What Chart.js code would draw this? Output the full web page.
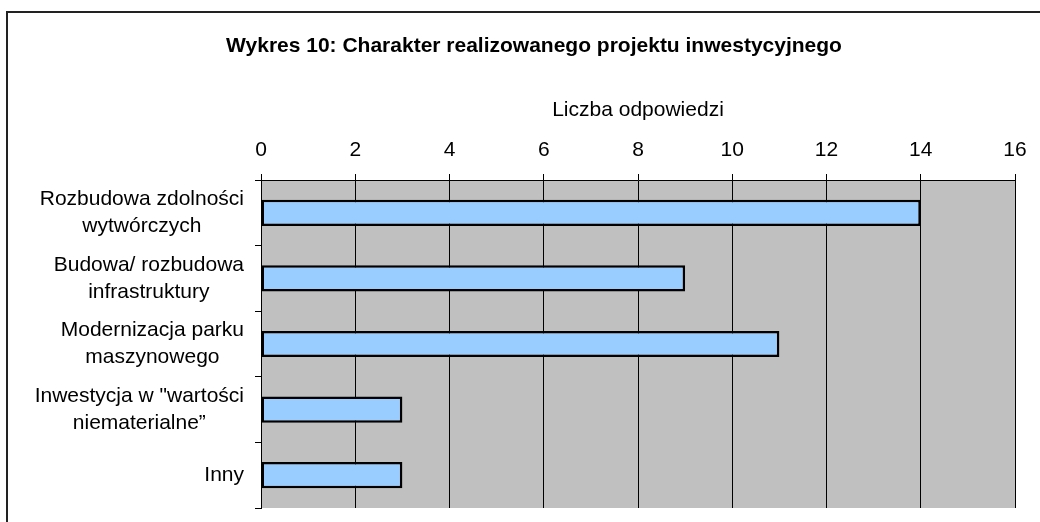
<!DOCTYPE html>
<html>
<head>
<meta charset="utf-8">
<script src="https://cdn.jsdelivr.net/npm/chart.js@4/dist/chart.umd.min.js"></script>
<style>
  html, body { margin: 0; padding: 0; background: #fff; overflow: hidden; }
  #ramka { position: absolute; left: 6px; top: 11px; width: 1100px; height: 600px; border: 2px solid #222; }
  #wrap { position: absolute; left: 0; top: 0; width: 1040px; height: 522px; }
</style>
</head>
<body>
<div id="ramka"></div>
<div id="wrap"><canvas id="grafikInwestycje" width="1040" height="522"></canvas></div>
<script>
// Dane
const kategorie = [
  ['Rozbudowa zdolności', 'wytwórczych'],
  ['Budowa/ rozbudowa', 'infrastruktury'],
  ['Modernizacja parku', 'maszynowego'],
  ['Inwestycja w "wartości', 'niematerialne”'],
  ['Inny']
];
const liczbaOdpowiedzi = [14, 9, 11, 3, 3];
const skalaMin = 0;
const skalaMax = 16;
const skalaKrok = 2;

const czcionka = '"Liberation Sans", Arial, sans-serif';

// tlo obszaru wykresu (szare jak w Excelu)
const tloObszaru = {
  id: 'tloObszaru',
  beforeDraw(chart) {
    const { ctx, chartArea: a } = chart;
    ctx.save();
    ctx.fillStyle = '#c0c0c0';
    ctx.fillRect(a.left, a.top, a.right - a.left, a.bottom - a.top);
    ctx.restore();
  }
};

// etykiety kategorii: blok wyrownany do prawej, wiersze wysrodkowane
const etykietyKategorii = {
  id: 'etykietyKategorii',
  afterDraw(chart) {
    const { ctx } = chart;
    const y = chart.scales.y;
    const prawo = chart.chartArea.left - 17;
    const wysWiersza = 27;
    ctx.save();
    ctx.font = '21px ' + czcionka;
    ctx.fillStyle = '#000';
    ctx.textAlign = 'center';
    ctx.textBaseline = 'middle';
    kategorie.forEach((linie, i) => {
      const szer = Math.max(...linie.map(l => ctx.measureText(l).width));
      const srodekX = prawo - szer / 2;
      const srodekY = y.getPixelForValue(i);
      const start = srodekY - (linie.length - 1) * wysWiersza / 2;
      linie.forEach((l, j) => ctx.fillText(l, srodekX, start + j * wysWiersza));
    });
    ctx.restore();
  }
};

function tampilkanGrafik() {
  const ctx = document.getElementById('grafikInwestycje').getContext('2d');

  window.grafik = new Chart(ctx, {
    type: 'bar',
    data: {
      labels: kategorie,
      datasets: [{
        data: liczbaOdpowiedzi,
        backgroundColor: '#99ccff',
        borderColor: '#000',
        borderWidth: 2.5,
        borderSkipped: false,
        barPercentage: 0.4,
        categoryPercentage: 1
      }]
    },
    options: {
      indexAxis: 'y',
      responsive: false,
      animation: false,
      devicePixelRatio: 1,
      layout: { padding: { left: 53, right: 25, top: 0, bottom: 14 } },
      plugins: {
        legend: { display: false },
        tooltip: { enabled: false },
        title: {
          display: true,
          text: 'Wykres 10: Charakter realizowanego projektu inwestycyjnego',
          color: '#000',
          font: { family: czcionka, size: 21, weight: 'bold' },
          padding: { top: 34, bottom: 10 }
        }
      },
      scales: {
        x: {
          position: 'top',
          min: skalaMin,
          max: skalaMax,
          afterFit(s) { s.height = 180 - 69.2; },
          ticks: {
            stepSize: skalaKrok,
            color: '#000',
            padding: 11,
            font: { family: czcionka, size: 21 }
          },
          grid: { color: '#000', lineWidth: 1, tickLength: 6 },
          border: { color: '#000', width: 1 },
          title: {
            display: true,
            text: 'Liczba odpowiedzi',
            color: '#000',
            font: { family: czcionka, size: 21 },
            padding: { top: 28, bottom: 0 }
          }
        },
        y: {
          afterFit(s) { s.width = 261 - 53; },
          ticks: { display: false },
          grid: { offset: true, drawOnChartArea: false, color: '#000', tickLength: 6 },
          border: { color: '#000', width: 1 }
        }
      }
    },
    plugins: [tloObszaru, etykietyKategorii]
  });
}

tampilkanGrafik();
</script>
</body>
</html>
